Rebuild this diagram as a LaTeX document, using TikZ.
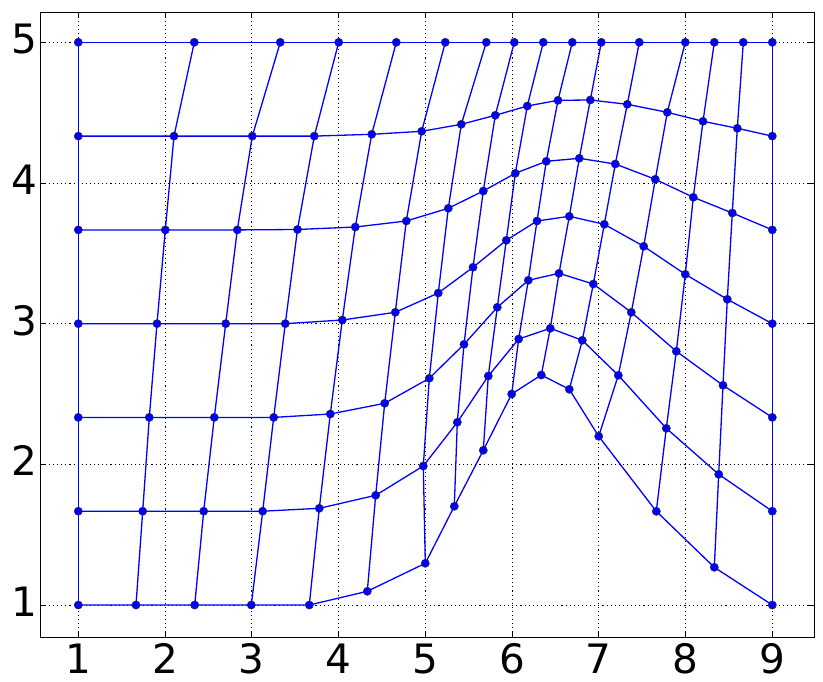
\documentclass[tikz,border=0pt]{standalone}
\usepackage{fontspec}
\setmainfont{DejaVu Sans}
\begin{document}
\begin{tikzpicture}[x=1pt,y=-1pt,
  mesh/.style={draw={rgb,1:red,0;green,0;blue,1}, line width=1.3pt, line join=round},
  dot/.style={fill={rgb,1:red,0;green,0;blue,1}, draw=black!85, line width=0.45pt},
  gridline/.style={black, line width=0.65pt, dash pattern=on 1.1pt off 3pt},
  frame/.style={black, line width=1.3pt},
  tickmark/.style={black, line width=0.8pt},
  lbl/.style={font=\fontsize{40.5}{48}\selectfont, inner sep=0pt}]
\useasboundingbox (0,0) rectangle (823,681);
% axes corners
\coordinate (axNW) at (40.7,12.3);
\coordinate (axSE) at (814.3,637.3);
% grid
\foreach \k in {1,...,9}{
  \pgfmathsetmacro\gx{78.3+(\k-1)*86.75}
  \draw[gridline] (\gx,12.3) -- (\gx,637.3);
}
\foreach \k in {1,...,5}{
  \pgfmathsetmacro\gy{605-(\k-1)*140.675}
  \draw[gridline] (40.7,\gy) -- (814.3,\gy);
}
% mesh points
\foreach \x/\y [count=\i from 0] in {78.3/605, 136/605, 194.7/605, 251.3/605, 309.3/605, 367.3/591.3, 425.3/563.3, 454.3/506.3, 483.3/450.3, 511.7/394, 541.3/375, 569.3/389.3, 598.7/436.3, 656.3/511.3, 714.3/567.3, 772.3/605}
  \coordinate (p\i-0) at (\x,\y);
\foreach \x/\y [count=\i from 0] in {78.3/511.2, 142.7/511.2, 203.7/511.2, 262.7/511.2, 319.3/508.3, 375.7/495.3, 423.3/466, 457.3/422.3, 488.3/376, 518.7/339, 550.3/328.3, 582.3/340.3, 618.3/375.3, 666.3/428.3, 718.7/474.3, 772.3/511.2}
  \coordinate (p\i-1) at (\x,\y);
\foreach \x/\y [count=\i from 0] in {78.3/417.4, 149.3/417.4, 214.3/417.4, 273.7/417.4, 330.3/414, 384.7/403.3, 429.3/378.3, 464/344.3, 497.3/307.3, 528.3/280.3, 559/273.3, 593.3/284, 631.3/312.3, 676.3/351.3, 723/385.3, 772.3/417.4}
  \coordinate (p\i-2) at (\x,\y);
\foreach \x/\y [count=\i from 0] in {78.3/323.65, 157/323.65, 225.7/323.65, 285.3/323.65, 342.3/320, 395.3/312.3, 438.3/293, 473/267.3, 506.3/240.3, 537/221, 569.3/216.3, 604.3/224.3, 643.7/246.3, 685.3/274.3, 727.3/299.3, 772.3/323.65}
  \coordinate (p\i-3) at (\x,\y);
\foreach \x/\y [count=\i from 0] in {78.3/229.9, 165.3/229.9, 237.3/229.9, 297.5/229.5, 355.3/227, 406.3/221, 448.3/208.3, 483.3/191, 515.3/173.3, 546.3/161.3, 579.3/158.3, 615.3/164, 655.3/179.3, 693.3/197.3, 732.3/213, 772.3/229.9}
  \coordinate (p\i-4) at (\x,\y);
\foreach \x/\y [count=\i from 0] in {78.3/136.1, 174/136.1, 252.3/136.1, 314.3/136.1, 371.7/134.3, 421.7/131.3, 461.3/124.3, 495.3/115.3, 527.3/106, 558/100.3, 590.3/100, 627.3/104.3, 667.3/112.3, 703/121.3, 737.3/128.3, 772.3/136.1}
  \coordinate (p\i-5) at (\x,\y);
\foreach \x [count=\i from 0] in {78.3, 194.3, 280.3, 338.7, 396.3, 445.3, 486.3, 514.3, 543.3, 572.3, 601.3, 639.3, 685.3, 714.3, 743.3, 772.3}
  \coordinate (p\i-6) at (\x,42.3);
% mesh lines
\foreach \j in {0,...,6}
  \draw[mesh] (p0-\j) \foreach \i in {1,...,15}{ -- (p\i-\j) };
\foreach \i in {0,...,15}
  \draw[mesh] (p\i-0) \foreach \j in {1,...,6}{ -- (p\i-\j) };
% markers
\foreach \j in {0,...,6}
  \foreach \i in {0,...,15}
    \path[dot] (p\i-\j) circle[radius=4.1pt];
% frame
\draw[frame] (axNW) rectangle (axSE);
% ticks and labels
\foreach \k in {1,...,9}{
  \pgfmathsetmacro\gx{78.3+(\k-1)*86.75}
  \draw[tickmark] (\gx,637.3) -- (\gx,631.7);
  \draw[tickmark] (\gx,12.3) -- (\gx,17.9);
  \node[lbl, anchor=base] (xl\k) at (\gx,673.3) {\k};
}
\foreach \k in {1,...,5}{
  \pgfmathsetmacro\gy{605-(\k-1)*140.675}
  \draw[tickmark] (40.7,\gy) -- (46.3,\gy);
  \draw[tickmark] (814.3,\gy) -- (808.7,\gy);
  \node[lbl, anchor=base east] (yl\k) at (37.8,\gy+11.5) {\k};
}
\end{tikzpicture}
\end{document}
